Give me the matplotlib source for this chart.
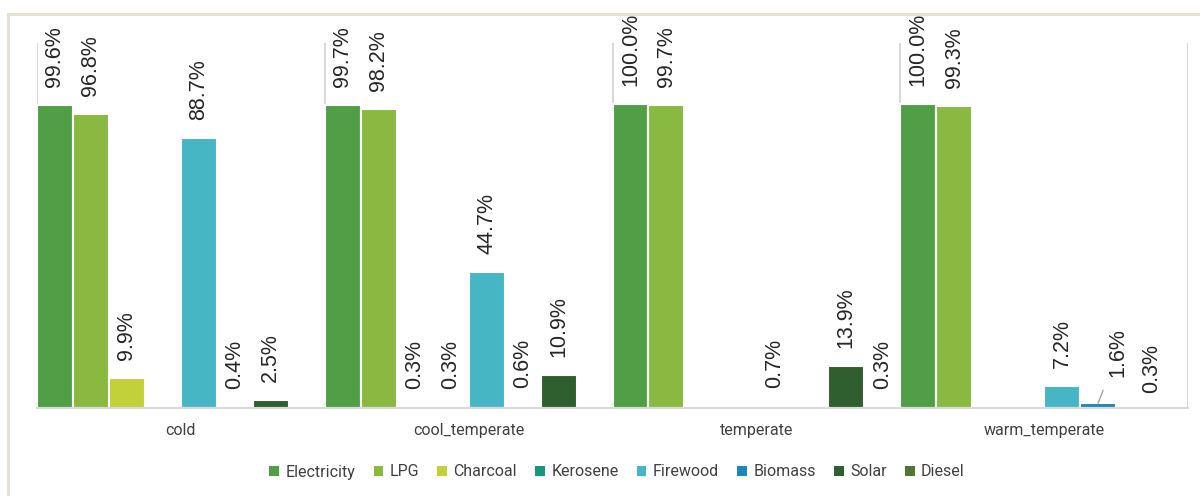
import numpy as np
import matplotlib
matplotlib.use('Agg')
import matplotlib.pyplot as plt
from matplotlib.patches import Patch
from matplotlib.lines import Line2D

# climate zones and share of households using each energy source (%)
zones = ['cold', 'cool_temperate', 'temperate', 'warm_temperate']
sources = ['Electricity', 'LPG', 'Charcoal', 'Kerosene', 'Firewood', 'Biomass', 'Solar', 'Diesel']

nan = np.nan
electricity = [99.6, 99.7, 100.0, 100.0]
lpg = [96.8, 98.2, 99.7, 99.3]
charcoal = [9.9, 0.3, nan, nan]
kerosene = [nan, 0.3, nan, nan]
firewood = [88.7, 44.7, 0.7, 7.2]
biomass = [0.4, 0.6, nan, 1.6]
solar = [2.5, 10.9, 13.9, 0.3]
diesel = [nan, nan, 0.3, nan]

series = [electricity, lpg, charcoal, kerosene, firewood, biomass, solar, diesel]
colors = ['#509f47', '#8ab941', '#c2d13a', '#17977a', '#46b5c4', '#1f87b5', '#2f5f2f', '#4f7633']

# labels that had to be pushed aside (zone index, source index) -> pixel offset
nudges = {(3, 5): (20, 26), (3, 6): (18, 14)}

fig = plt.figure(figsize=(12, 4.96), dpi=100)
ax = fig.add_axes([37 / 1200, 1 - 408 / 496, 1151 / 1200, 365 / 496])

n = len(sources)
w = 1.0 / n
x = np.arange(len(zones))
for j, (vals, col) in enumerate(zip(series, colors)):
    pos = x + (j - (n - 1) / 2) * w
    v = np.array(vals, dtype=float)
    ok = ~np.isnan(v)
    ax.bar(pos[ok], v[ok], width=w, color=col, edgecolor='white', linewidth=1.5, zorder=3)
    for i in np.where(ok)[0]:
        dx, dy = nudges.get((i, j), (0, 18))
        props = None
        if (i, j) == (3, 5):
            props = dict(arrowstyle='-', color='#a6a6a6', lw=1, shrinkA=8, shrinkB=0)
        ax.annotate(f'{v[i]:.1f}%', xy=(pos[i], v[i]), xytext=(dx, dy),
                    textcoords='offset pixels', rotation=90, ha='center', va='bottom',
                    fontsize=15.5, family='Liberation Sans', color='#262626',
                    annotation_clip=False, arrowprops=props)

ax.set_xlim(-0.5, len(zones) - 0.5)
ax.set_ylim(0, 120)
ax.set_yticks([])
ax.set_xticks(x)
ax.set_xticklabels(zones, fontsize=11.5, family='Roboto', color='#404040')
ax.tick_params(axis='x', length=0, pad=11)
for s in ['top', 'right', 'left']:
    ax.spines[s].set_visible(False)
ax.spines['bottom'].set_color('#d9d9d9')
ax.spines['bottom'].set_linewidth(1.5)
ax.spines['bottom'].set_zorder(4)
# separators between zones
for b in np.arange(len(zones) + 1) - 0.5:
    ax.axvline(b, color='#d9d9d9', lw=1.5, zorder=1)

handles = [Patch(facecolor=c, label=s) for s, c in zip(sources, colors)]
leg = fig.legend(handles=handles, loc='center', bbox_to_anchor=(617 / 1200, 1 - 472 / 496),
                 ncol=n, frameon=False, handlelength=0.6, handleheight=0.6,
                 handletextpad=0.4, columnspacing=1.15,
                 prop={'family': 'Roboto', 'size': 11.5})
for t in leg.get_texts():
    t.set_color('#404040')

# light frame around the chart
fig.add_artist(Line2D([8 / 1200, 1], [1 - 14 / 496] * 2, color='#e3dfd4', lw=2))
fig.add_artist(Line2D([8 / 1200] * 2, [0, 1 - 14 / 496], color='#e3dfd4', lw=2))

fig.savefig('out.png', dpi=100)
